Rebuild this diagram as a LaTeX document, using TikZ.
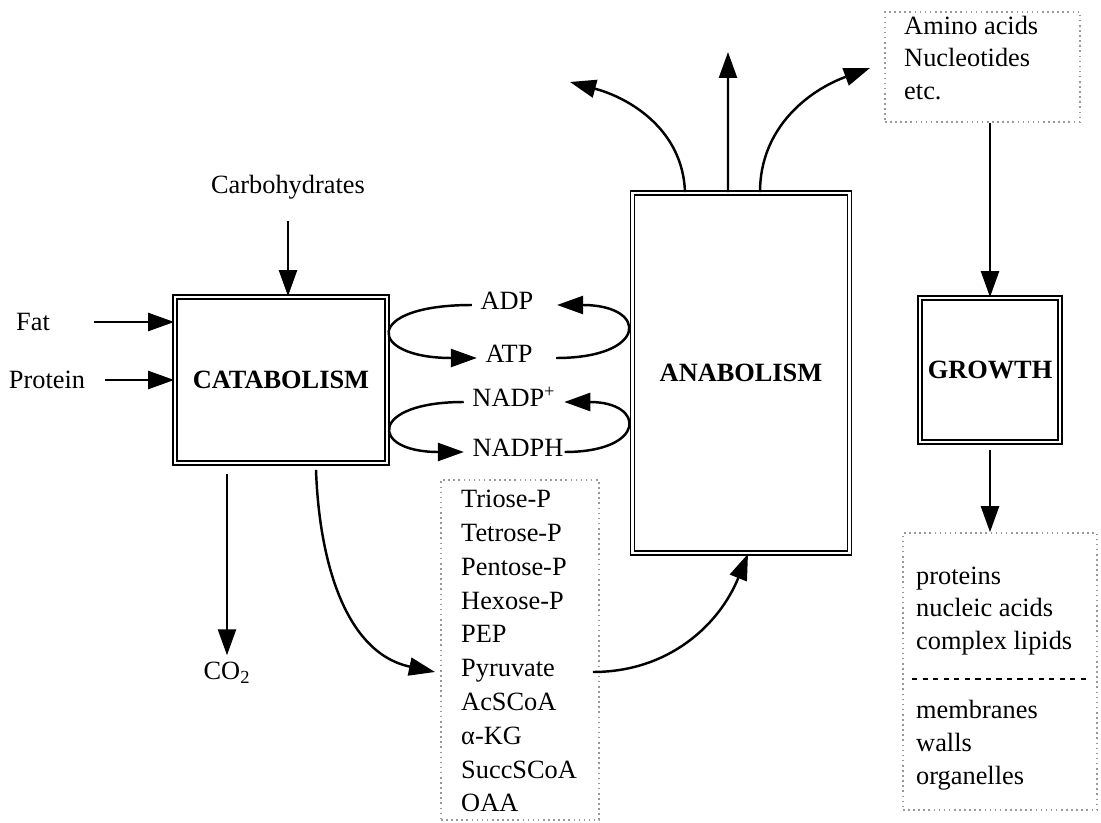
\documentclass[tikz,border=0pt]{standalone}
\usepackage{fontspec}
\setmainfont{Liberation Serif}
\usetikzlibrary{arrows.meta, positioning, calc}

\begin{document}
\begin{tikzpicture}[>={Triangle[length=0.52cm, width=0.36cm]}, line width=1.4pt,
   every node/.style={font=\fontsize{15}{18}\selectfont},
   proc/.style={draw, double, double distance=1.3pt, line width=1pt, font=\fontsize{15}{18}\selectfont\bfseries},
   dotbox/.style={draw=gray!80, dotted, line width=0.9pt},
   item/.style={anchor=west, inner sep=0pt, text height=1.6ex, text depth=0.45ex},
   cof/.style={inner xsep=0.15cm, text height=1.6ex, text depth=0.45ex}] 
   \useasboundingbox (0,0) rectangle (22.02,16.44);

   % main boxes
   \node[proc, minimum width=4.24cm, minimum height=3.32cm] (cat) at (5.62,8.84) {CATABOLISM};
   \node[proc, minimum width=4.34cm, minimum height=7.2cm] (ana) at (14.82,8.98) {ANABOLISM};
   \node[proc, minimum width=2.8cm, minimum height=2.88cm] (grow) at (19.8,9.04) {GROWTH};

   % inputs
   \node (carb) at (5.76,12.70) {Carbohydrates};
   \node (fat) at (0.66,10.0) {Fat};
   \node (prot) at (0.94,8.84) {Protein};
   \node (co2) at (4.54,2.98) {CO\textsubscript{2}};

   \draw[->, shorten <=0.3cm] (carb.south) -- (carb.south |- cat.north);
   \draw[->] ([xshift=0.75cm]fat.east) -- (cat.west |- fat);
   \draw[->] ([xshift=0.25cm]prot.east) -- (cat.west |- prot);
   \draw[->, shorten <=0.2cm] (cat.south -| co2) -- (co2.north);

   % cofactors
   \node[cof] (adp) at (10.14,10.34) {ADP};
   \node[cof] (atp) at (10.18,9.28) {ATP};
   \node[cof] (nadp) at (10.28,8.40) {NADP\textsuperscript{+}};
   \node[cof] (nadph) at (10.36,7.40) {NADPH};

   \draw[->] (adp.west) .. controls +(-2.2,0) and +(-2.2,0) .. (atp.west);
   \draw[->] ([xshift=0.3cm]atp.east) .. controls +(1.84,0) and +(1.84,0) .. ([xshift=0.3cm]adp.east);
   \draw[->] (nadp.west) .. controls +(-1.9,0) and +(-1.9,0) .. (nadph.west);
   \draw[->] ([xshift=-0.15cm]nadph.east) .. controls +(1.64,0) and +(1.64,0) .. (nadp.east);

   % intermediates
   \node[dotbox, minimum width=3.16cm, minimum height=6.8cm] (met) at (10.4,3.44) {};
   \foreach \txt [count=\i] in {Triose-P, Tetrose-P, Pentose-P, Hexose-P, PEP, Pyruvate, AcSCoA, α-KG, SuccSCoA, OAA}
      \node[item] (m\i) at (9.2,{6.38-0.676*(\i-1)}) {\txt};
   \coordinate (pyrout) at (met.east |- m6);

   \draw[->] ($(cat.south)+(0.7,-0.12)$) to[out=-88, in=168] ([xshift=-0.5cm]m6.west);
   \draw[->] ([xshift=-0.14cm]pyrout) to[out=0, in=-112] ([xshift=0.14cm]ana.south);

   % products of anabolism
   \coordinate (upl) at (11.40,14.80);
   \coordinate (upm) at (14.56,15.40);
   \coordinate (upr) at (17.40,15.08);
   \draw[->] ([xshift=-1.12cm]ana.north) to[out=92, in=-15] (upl);
   \draw[->] ([xshift=-0.26cm]ana.north) -- (upm);
   \draw[->] ([xshift=0.38cm]ana.north) to[out=90, in=200] (upr);

   \node[dotbox, minimum width=3.9cm, minimum height=2.2cm] (amino) at (19.65,15.10) {};
   \node[item] (a1) at (18.06,15.84) {Amino acids};
   \node[item] (a2) at (18.06,15.20) {Nucleotides};
   \node[item] (a3) at (18.06,14.54) {etc.};
   \draw[->] (amino.south -| grow.north) -- (grow.north);

   % growth products
   \node[dotbox, minimum width=3.88cm, minimum height=5.54cm] (bot) at (20.0,3.01) {};
   \node[item] (b1) at (18.3,4.84) {proteins};
   \node[item] (b2) at (18.3,4.20) {nucleic acids};
   \node[item] (b3) at (18.3,3.54) {complex lipids};
   \node[item] (b4) at (18.3,2.16) {membranes};
   \node[item] (b5) at (18.3,1.50) {walls};
   \node[item] (b6) at (18.3,0.84) {organelles};
   \draw[dashed, line width=0.6pt] (18.24,2.86) -- (21.8,2.86);
   \draw[->, shorten <=0.15cm] (grow.south) -- (grow.south |- bot.north);
\end{tikzpicture}
\end{document}
